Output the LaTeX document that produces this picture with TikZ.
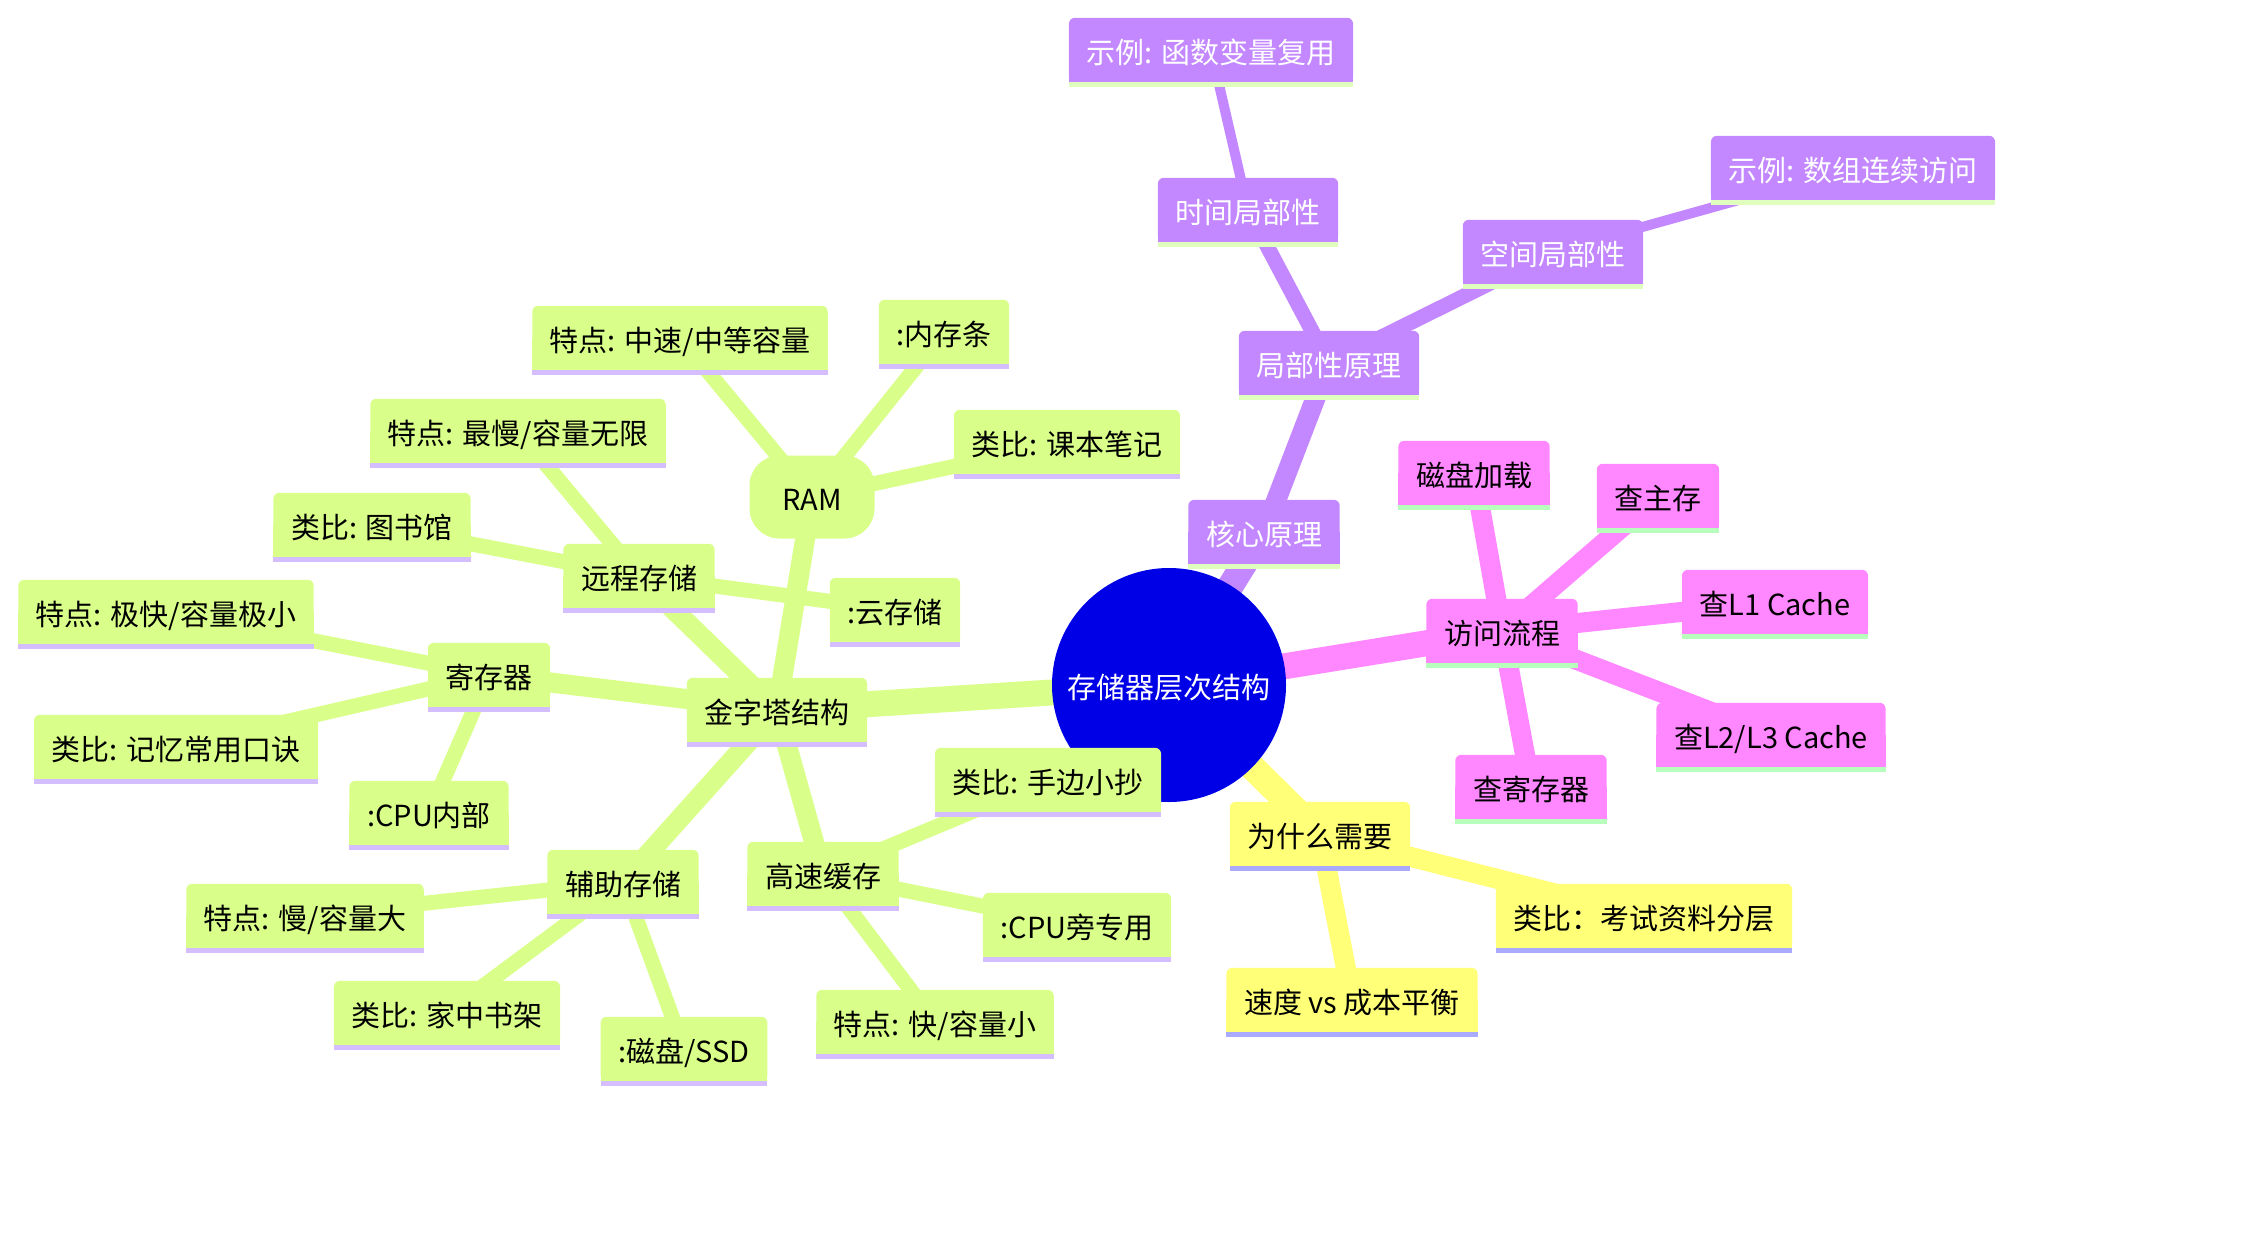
\documentclass[tikz,border=0pt]{standalone}
\usepackage{fontspec}
\setmainfont{Noto Sans CJK SC}
\newfontfamily\mmfont{Noto Sans CJK SC}
\pgfdeclarelayer{edgelayer}
\pgfdeclarelayer{bglayer}
\pgfsetlayers{edgelayer,bglayer,main}
\definecolor{rootblue}{RGB}{0,0,230}
\definecolor{cpur}{RGB}{195,135,255}
\definecolor{bpur}{RGB}{224,255,190}
\definecolor{cpink}{RGB}{255,135,255}
\definecolor{bpink}{RGB}{184,255,190}
\definecolor{cyel}{RGB}{255,255,120}
\definecolor{byel}{RGB}{170,170,255}
\definecolor{cgrn}{RGB}{217,255,138}
\definecolor{bgrn}{RGB}{212,190,255}
\tikzset{
  mmbox/.style={inner xsep=17.5pt, inner ysep=0pt, minimum height=64pt,
    text height=27pt, text depth=0pt, font=\mmfont\fontsize{29}{34}\selectfont},
  ew1/.style={line width=26pt},
  ew2/.style={line width=20pt},
  ew3/.style={line width=15pt},
  ew4/.style={line width=10pt},
}
% name, x, y, fill, bar, text colour, text
\newcommand\mmn[7]{%
  \node[mmbox, text=#6] (#1) at (#2,#3) {#7};
  \begin{pgfonlayer}{bglayer}
    \fill[#4, rounded corners=6pt] (#1.south west) rectangle (#1.north east);
    \fill[#4] (#1.south west) rectangle (#1.east);
    \fill[#5] (#1.south west) rectangle ([yshift=-5pt]#1.south east);
  \end{pgfonlayer}}
% from, to, width style, colour
\newcommand\mme[4]{%
  \begin{pgfonlayer}{edgelayer}
    \draw[#3, draw=#4] (#1.center) -- (#2.center);
  \end{pgfonlayer}}
\begin{document}
\begin{tikzpicture}[x=1pt, y=-1pt]
\useasboundingbox (0,0) rectangle (2263,1242);
% root
\begin{pgfonlayer}{bglayer}
\node[circle, fill=rootblue, minimum size=234pt, inner sep=0pt, text=white,
  text height=27pt, text depth=0pt,
  font=\mmfont\fontsize{29}{34}\selectfont] (root) at (1169,685) {存储器层次结构};
\end{pgfonlayer}
% purple branch
\mmn{hx}{1264}{532}{cpur}{bpur}{white}{核心原理}
\mmn{jb}{1329}{363}{cpur}{bpur}{white}{局部性原理}
\mmn{sj}{1248}{210}{cpur}{bpur}{white}{时间局部性}
\mmn{sja}{1211}{50}{cpur}{bpur}{white}{示例: 函数变量复用}
\mmn{kj}{1553}{252}{cpur}{bpur}{white}{空间局部性}
\mmn{kja}{1853}{168}{cpur}{bpur}{white}{示例: 数组连续访问}
% pink branch
\mmn{fw}{1502}{631}{cpink}{bpink}{black}{访问流程}
\mmn{cp}{1474}{473}{cpink}{bpink}{black}{磁盘加载}
\mmn{zc}{1658}{496}{cpink}{bpink}{black}{查主存}
\mmn{l1}{1775}{602}{cpink}{bpink}{black}{查L1 Cache}
\mmn{l2}{1771}{735}{cpink}{bpink}{black}{查L2/L3 Cache}
\mmn{jc}{1531}{787}{cpink}{bpink}{black}{查寄存器}
% yellow branch
\mmn{ws}{1320}{834}{cyel}{byel}{black}{为什么需要}
\mmn{lb}{1644}{916}{cyel}{byel}{black}{类比：考试资料分层}
\mmn{sd}{1352}{1000}{cyel}{byel}{black}{速度 vs 成本平衡}
% green branch
\mmn{jz}{777}{710}{cgrn}{bgrn}{black}{金字塔结构}
\node[mmbox, fill=cgrn, rounded corners=30pt, minimum width=125pt, minimum height=83pt] (ram) at (812,497) {RAM};
\mmn{rama}{680}{338}{cgrn}{bgrn}{black}{特点: 中速/中等容量}
\mmn{ramb}{944}{332}{cgrn}{bgrn}{black}{:内存条}
\mmn{ramc}{1067}{442}{cgrn}{bgrn}{black}{类比: 课本笔记}
\mmn{yc}{639}{576}{cgrn}{bgrn}{black}{远程存储}
\mmn{yca}{518}{431}{cgrn}{bgrn}{black}{特点: 最慢/容量无限}
\mmn{ycb}{372}{525}{cgrn}{bgrn}{black}{类比: 图书馆}
\mmn{ycc}{895}{610}{cgrn}{bgrn}{black}{:云存储}
\mmn{jcq}{489}{675}{cgrn}{bgrn}{black}{寄存器}
\mmn{jcqa}{166}{612}{cgrn}{bgrn}{black}{特点: 极快/容量极小}
\mmn{jcqb}{176}{747}{cgrn}{bgrn}{black}{类比: 记忆常用口诀}
\mmn{jcqc}{429}{813}{cgrn}{bgrn}{black}{:CPU内部}
\mmn{fz}{623}{882}{cgrn}{bgrn}{black}{辅助存储}
\mmn{fza}{305}{916}{cgrn}{bgrn}{black}{特点: 慢/容量大}
\mmn{fzb}{447}{1013}{cgrn}{bgrn}{black}{类比: 家中书架}
\mmn{fzc}{684}{1049}{cgrn}{bgrn}{black}{:磁盘/SSD}
\mmn{gs}{823}{874}{cgrn}{bgrn}{black}{高速缓存}
\mmn{gsa}{1048}{780}{cgrn}{bgrn}{black}{类比: 手边小抄}
\mmn{gsb}{1077}{925}{cgrn}{bgrn}{black}{:CPU旁专用}
\mmn{gsc}{935}{1022}{cgrn}{bgrn}{black}{特点: 快/容量小}
% edges
\mme{root}{hx}{ew1}{cpur}
\mme{hx}{jb}{ew2}{cpur}
\mme{jb}{sj}{ew3}{cpur}
\mme{jb}{kj}{ew3}{cpur}
\mme{sj}{sja}{ew4}{cpur}
\mme{kj}{kja}{ew4}{cpur}
\mme{root}{fw}{ew1}{cpink}
\mme{fw}{cp}{ew2}{cpink}
\mme{fw}{zc}{ew2}{cpink}
\mme{fw}{l1}{ew2}{cpink}
\mme{fw}{l2}{ew2}{cpink}
\mme{fw}{jc}{ew2}{cpink}
\mme{root}{ws}{ew1}{cyel}
\mme{ws}{lb}{ew2}{cyel}
\mme{ws}{sd}{ew2}{cyel}
\mme{root}{jz}{ew1}{cgrn}
\mme{jz}{ram}{ew2}{cgrn}
\mme{jz}{yc}{ew2}{cgrn}
\mme{jz}{jcq}{ew2}{cgrn}
\mme{jz}{fz}{ew2}{cgrn}
\mme{jz}{gs}{ew2}{cgrn}
\mme{ram}{rama}{ew3}{cgrn}
\mme{ram}{ramb}{ew3}{cgrn}
\mme{ram}{ramc}{ew3}{cgrn}
\mme{yc}{yca}{ew3}{cgrn}
\mme{yc}{ycb}{ew3}{cgrn}
\mme{yc}{ycc}{ew3}{cgrn}
\mme{jcq}{jcqa}{ew3}{cgrn}
\mme{jcq}{jcqb}{ew3}{cgrn}
\mme{jcq}{jcqc}{ew3}{cgrn}
\mme{fz}{fza}{ew3}{cgrn}
\mme{fz}{fzb}{ew3}{cgrn}
\mme{fz}{fzc}{ew3}{cgrn}
\mme{gs}{gsa}{ew3}{cgrn}
\mme{gs}{gsb}{ew3}{cgrn}
\mme{gs}{gsc}{ew3}{cgrn}
\end{tikzpicture}
\end{document}
